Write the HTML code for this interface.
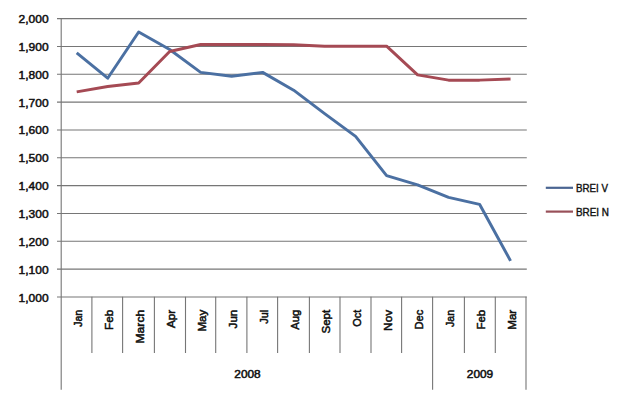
<!DOCTYPE html>
<html><head><meta charset="utf-8"><title>BREI chart</title>
<style>
html,body{margin:0;padding:0;background:#fff;width:640px;height:400px;overflow:hidden}
svg{display:block}
text{font-family:'Liberation Sans', Arial, sans-serif;fill:#111}
.yl{font-size:11.4px;font-weight:normal;stroke:#111;stroke-width:0.5px}
.cl{font-size:11.2px;font-weight:normal;stroke:#111;stroke-width:0.52px}
.lg{font-size:10.2px;font-weight:normal;stroke:#111;stroke-width:0.38px}
</style></head><body>
<svg width="640" height="400" viewBox="0 0 640 400">
<rect width="640" height="400" fill="#fff"/>
<line x1="57" y1="18.60" x2="526.8" y2="18.60" stroke="#767676" stroke-width="1.1"/>
<line x1="57" y1="46.44" x2="526.8" y2="46.44" stroke="#767676" stroke-width="1.1"/>
<line x1="57" y1="74.28" x2="526.8" y2="74.28" stroke="#767676" stroke-width="1.1"/>
<line x1="57" y1="102.12" x2="526.8" y2="102.12" stroke="#767676" stroke-width="1.1"/>
<line x1="57" y1="129.96" x2="526.8" y2="129.96" stroke="#767676" stroke-width="1.1"/>
<line x1="57" y1="157.80" x2="526.8" y2="157.80" stroke="#767676" stroke-width="1.1"/>
<line x1="57" y1="185.64" x2="526.8" y2="185.64" stroke="#767676" stroke-width="1.1"/>
<line x1="57" y1="213.48" x2="526.8" y2="213.48" stroke="#767676" stroke-width="1.1"/>
<line x1="57" y1="241.32" x2="526.8" y2="241.32" stroke="#767676" stroke-width="1.1"/>
<line x1="57" y1="269.16" x2="526.8" y2="269.16" stroke="#767676" stroke-width="1.1"/>
<line x1="57" y1="297.00" x2="526.8" y2="297.00" stroke="#767676" stroke-width="1.1"/>
<line x1="61.2" y1="18" x2="61.2" y2="389.8" stroke="#767676" stroke-width="1.1"/>
<line x1="91.90" y1="296.75" x2="91.90" y2="353" stroke="#767676" stroke-width="1.1"/>
<line x1="122.60" y1="296.75" x2="122.60" y2="353" stroke="#767676" stroke-width="1.1"/>
<line x1="154.40" y1="296.75" x2="154.40" y2="353" stroke="#767676" stroke-width="1.1"/>
<line x1="185.50" y1="296.75" x2="185.50" y2="353" stroke="#767676" stroke-width="1.1"/>
<line x1="215.70" y1="296.75" x2="215.70" y2="353" stroke="#767676" stroke-width="1.1"/>
<line x1="246.90" y1="296.75" x2="246.90" y2="353" stroke="#767676" stroke-width="1.1"/>
<line x1="277.60" y1="296.75" x2="277.60" y2="353" stroke="#767676" stroke-width="1.1"/>
<line x1="309.40" y1="296.75" x2="309.40" y2="353" stroke="#767676" stroke-width="1.1"/>
<line x1="340.00" y1="296.75" x2="340.00" y2="353" stroke="#767676" stroke-width="1.1"/>
<line x1="371.00" y1="296.75" x2="371.00" y2="353" stroke="#767676" stroke-width="1.1"/>
<line x1="401.60" y1="296.75" x2="401.60" y2="353" stroke="#767676" stroke-width="1.1"/>
<line x1="432.60" y1="296.75" x2="432.60" y2="389.8" stroke="#767676" stroke-width="1.1"/>
<line x1="464.40" y1="296.75" x2="464.40" y2="353" stroke="#767676" stroke-width="1.1"/>
<line x1="495.30" y1="296.75" x2="495.30" y2="353" stroke="#767676" stroke-width="1.1"/>
<line x1="526.00" y1="296.75" x2="526.00" y2="389.8" stroke="#767676" stroke-width="1.1"/>
<text class="yl" x="48.6" y="23.10" text-anchor="end" textLength="30" lengthAdjust="spacingAndGlyphs">2,000</text>
<text class="yl" x="48.6" y="50.94" text-anchor="end" textLength="30" lengthAdjust="spacingAndGlyphs">1,900</text>
<text class="yl" x="48.6" y="78.78" text-anchor="end" textLength="30" lengthAdjust="spacingAndGlyphs">1,800</text>
<text class="yl" x="48.6" y="106.62" text-anchor="end" textLength="30" lengthAdjust="spacingAndGlyphs">1,700</text>
<text class="yl" x="48.6" y="134.46" text-anchor="end" textLength="30" lengthAdjust="spacingAndGlyphs">1,600</text>
<text class="yl" x="48.6" y="162.30" text-anchor="end" textLength="30" lengthAdjust="spacingAndGlyphs">1,500</text>
<text class="yl" x="48.6" y="190.14" text-anchor="end" textLength="30" lengthAdjust="spacingAndGlyphs">1,400</text>
<text class="yl" x="48.6" y="217.98" text-anchor="end" textLength="30" lengthAdjust="spacingAndGlyphs">1,300</text>
<text class="yl" x="48.6" y="245.82" text-anchor="end" textLength="30" lengthAdjust="spacingAndGlyphs">1,200</text>
<text class="yl" x="48.6" y="273.66" text-anchor="end" textLength="30" lengthAdjust="spacingAndGlyphs">1,100</text>
<text class="yl" x="48.6" y="301.50" text-anchor="end" textLength="30" lengthAdjust="spacingAndGlyphs">1,000</text>
<text class="cl" transform="translate(82.00,309.8) rotate(-90)" text-anchor="end" textLength="16.99" lengthAdjust="spacingAndGlyphs">Jan</text>
<text class="cl" transform="translate(112.98,309.8) rotate(-90)" text-anchor="end" textLength="20.14" lengthAdjust="spacingAndGlyphs">Feb</text>
<text class="cl" transform="translate(143.97,309.8) rotate(-90)" text-anchor="end" textLength="33.68" lengthAdjust="spacingAndGlyphs">March</text>
<text class="cl" transform="translate(174.96,309.8) rotate(-90)" text-anchor="end" textLength="18.15" lengthAdjust="spacingAndGlyphs">Apr</text>
<text class="cl" transform="translate(205.95,309.8) rotate(-90)" text-anchor="end" textLength="21.79" lengthAdjust="spacingAndGlyphs">May</text>
<text class="cl" transform="translate(236.94,309.8) rotate(-90)" text-anchor="end" textLength="18.58" lengthAdjust="spacingAndGlyphs">Jun</text>
<text class="cl" transform="translate(267.94,309.8) rotate(-90)" text-anchor="end" textLength="14.00" lengthAdjust="spacingAndGlyphs">Jul</text>
<text class="cl" transform="translate(298.92,309.8) rotate(-90)" text-anchor="end" textLength="19.91" lengthAdjust="spacingAndGlyphs">Aug</text>
<text class="cl" transform="translate(329.91,309.8) rotate(-90)" text-anchor="end" textLength="23.77" lengthAdjust="spacingAndGlyphs">Sept</text>
<text class="cl" transform="translate(360.90,309.8) rotate(-90)" text-anchor="end" textLength="16.93" lengthAdjust="spacingAndGlyphs">Oct</text>
<text class="cl" transform="translate(391.89,309.8) rotate(-90)" text-anchor="end" textLength="21.10" lengthAdjust="spacingAndGlyphs">Nov</text>
<text class="cl" transform="translate(422.88,309.8) rotate(-90)" text-anchor="end" textLength="19.60" lengthAdjust="spacingAndGlyphs">Dec</text>
<text class="cl" transform="translate(453.88,309.8) rotate(-90)" text-anchor="end" textLength="17.31" lengthAdjust="spacingAndGlyphs">Jan</text>
<text class="cl" transform="translate(484.86,309.8) rotate(-90)" text-anchor="end" textLength="19.65" lengthAdjust="spacingAndGlyphs">Feb</text>
<text class="cl" transform="translate(515.86,309.8) rotate(-90)" text-anchor="end" textLength="19.99" lengthAdjust="spacingAndGlyphs">Mar</text>
<text class="cl" x="247.5" y="378.2" text-anchor="middle" textLength="26.4" lengthAdjust="spacingAndGlyphs">2008</text>
<text class="cl" x="480.0" y="378.2" text-anchor="middle" textLength="26.4" lengthAdjust="spacingAndGlyphs">2009</text>
<polyline points="76.70,52.87 107.69,78.21 138.67,31.99 169.66,49.53 200.65,72.36 231.64,76.26 262.63,72.36 293.62,90.18 324.61,113.56 355.60,136.39 386.59,175.65 417.58,184.83 448.57,197.36 479.56,204.32 510.55,260.84" fill="none" stroke="#4B70A2" stroke-width="2.95" stroke-linejoin="round" stroke-linecap="butt"/>
<polyline points="76.70,91.85 107.69,86.56 138.67,82.94 169.66,51.48 200.65,44.52 231.64,44.52 262.63,44.52 293.62,44.80 324.61,46.19 355.60,46.19 386.59,46.19 417.58,74.87 448.57,80.15 479.56,80.15 510.55,79.04" fill="none" stroke="#A54A54" stroke-width="2.95" stroke-linejoin="round" stroke-linecap="butt"/>
<line x1="545.8" y1="187.8" x2="573" y2="187.8" stroke="#4A6592" stroke-width="2.2"/>
<line x1="545.8" y1="211.6" x2="573" y2="211.6" stroke="#985059" stroke-width="2.2"/>
<text class="lg" x="576" y="191.6" textLength="32" lengthAdjust="spacingAndGlyphs">BREI V</text>
<text class="lg" x="576" y="216.1" textLength="33" lengthAdjust="spacingAndGlyphs">BREI N</text>
</svg>
</body></html>
